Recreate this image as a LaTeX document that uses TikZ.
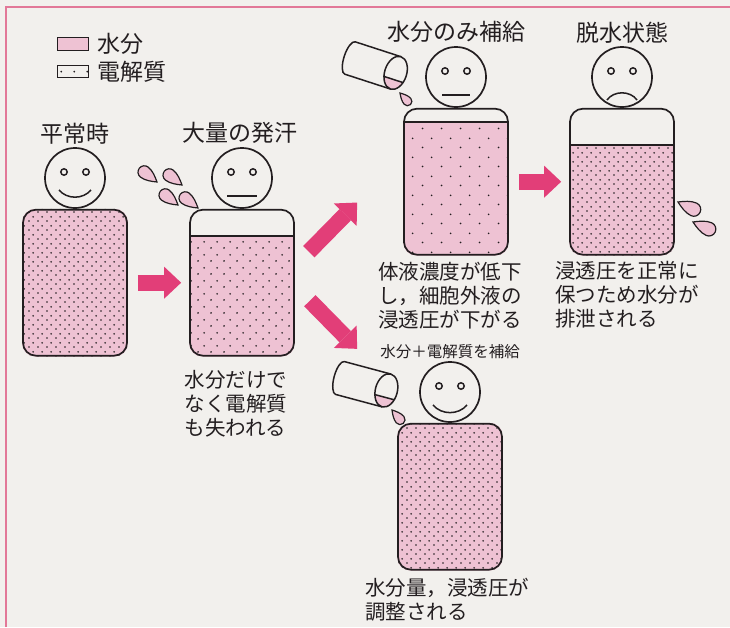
\documentclass[tikz,border=0pt]{standalone}
\usepackage{fontspec}
\setmainfont{Noto Sans CJK JP}
\usetikzlibrary{arrows.meta, positioning, backgrounds, patterns}

\definecolor{fluid}{RGB}{238,194,211}
\definecolor{arrowpink}{RGB}{226,62,120}
\definecolor{frame}{RGB}{226,120,152}
\definecolor{paper}{RGB}{242,240,237}
\definecolor{ink}{RGB}{35,30,32}

% dot screens for the electrolyte, from dense to thin
\pgfdeclarepatternformonly{densedots}{\pgfpointorigin}{\pgfqpoint{9pt}{9pt}}{\pgfqpoint{9pt}{9pt}}{%
  \pgfpathcircle{\pgfqpoint{2.25pt}{2.25pt}}{1pt}%
  \pgfpathcircle{\pgfqpoint{6.75pt}{6.75pt}}{1pt}%
  \pgfusepath{fill}}
\pgfdeclarepatternformonly{middots}{\pgfpointorigin}{\pgfqpoint{13pt}{13pt}}{\pgfqpoint{13pt}{13pt}}{%
  \pgfpathcircle{\pgfqpoint{3.25pt}{3.25pt}}{1pt}%
  \pgfpathcircle{\pgfqpoint{9.75pt}{9.75pt}}{1pt}%
  \pgfusepath{fill}}
\pgfdeclarepatternformonly{sparsedots}{\pgfpointorigin}{\pgfqpoint{19pt}{19pt}}{\pgfqpoint{19pt}{19pt}}{%
  \pgfpathcircle{\pgfqpoint{4.75pt}{4.75pt}}{1pt}%
  \pgfpathcircle{\pgfqpoint{14.25pt}{14.25pt}}{1pt}%
  \pgfusepath{fill}}

\tikzstyle{head} = [circle, draw=ink, line width=1.7pt, minimum size=60pt, inner sep=0pt]
\tikzstyle{body} = [rectangle, rounded corners=13pt, draw=ink, line width=1.7pt, minimum width=104pt, minimum height=146pt]
\tikzstyle{key} = [rectangle, draw=ink, line width=1.3pt, minimum width=31pt, minimum height=12.5pt, inner sep=0pt]
\tikzstyle{keytext} = [font=\fontsize{23}{26}\selectfont, inner sep=0pt, text=ink]
\tikzstyle{title} = [font=\fontsize{23}{26}\selectfont, inner sep=0pt, text=ink]
\tikzstyle{smalltitle} = [font=\fontsize{15.5}{18}\selectfont, inner sep=0pt, text=ink]
\tikzstyle{note} = [font=\fontsize{20.5}{24}\selectfont, align=left, inner sep=0pt, text=ink]
\tikzstyle{fluidline} = [draw=ink, line width=1.6pt]
\tikzstyle{face} = [draw=ink, line width=1.5pt]
\tikzstyle{fatarrow} = [line width=16pt, draw=arrowpink, -{Triangle[length=17pt,width=32pt,line width=0pt]}]

\tikzset{
  sweatdrop/.pic={
    \filldraw[fill=fluid, draw=ink, line width=1.2pt] (0,0) .. controls (4,2.5) and (9,5.5) .. (14,5.5)
      arc[start angle=90, end angle=-90, radius=5.5] .. controls (9,-5.5) and (4,-2.5) .. (0,0) -- cycle;
  },
  glass/.pic={
    \begin{scope}
      \clip (48,0) ellipse[x radius=11, y radius=17];
      \fill[fluid] (36,7) rectangle (60,18);
    \end{scope}
    \draw[face] (38,7) -- (58,7);
    \draw[face] (48,-17) -- (0,-17) arc[start angle=270, end angle=90, x radius=6, y radius=17] -- (48,17);
    \draw[face] (48,0) ellipse[x radius=11, y radius=17];
  }
}

\begin{document}
\begin{tikzpicture}[x=1pt, y=-1pt]
\useasboundingbox (0,0) rectangle (730,627);

% --- Legend ---
\node (keywater) [key, fill=fluid] at (73,44) {};
\node (keywatertext) [keytext, right=8pt of keywater] {水分};
\node (keysalt) [key, pattern=middots, pattern color=ink] at (73,71.5) {};
\node (keysalttext) [keytext, right=8pt of keysalt] {電解質};

% --- People ---
\node (head1) [head] at (75,178) {};
\node (body1) [body, below=0pt of head1] {};
\node (head2) [head] at (242,178) {};
\node (body2) [body, below=0pt of head2] {};
\node (head3) [head] at (456,77) {};
\node (body3) [body, below=0pt of head3] {};
\node (head4) [head] at (622,77) {};
\node (body4) [body, below=0pt of head4] {};
\node (head5) [head] at (450,392) {};
\node (body5) [body, below=0pt of head5] {};

\node (title1) [title, above=3pt of head1] {平常時};
\node (title2) [title, above=3pt of head2, xshift=-2pt] {大量の発汗};
\node (title3) [title, above=3pt of head3] {水分のみ補給};
\node (title4) [title, above=3pt of head4] {脱水状態};
\node (title5) [smalltitle, above=2pt of head5] {水分＋電解質を補給};

\node (note2) [note, below=14pt of body2, xshift=-6pt] {水分だけで\\なく電解質\\も失われる};
\node (note3) [note, below=6pt of body3, xshift=-6pt] {体液濃度が低下\\し，細胞外液の\\浸透圧が下がる};
\node (note4) [note, below=6pt of body4, xshift=5pt] {浸透圧を正常に\\保つため水分が\\排泄される};
\node (note5) [note, below=7pt of body5, xshift=-3pt] {水分量，浸透圧が\\調整される};

% body fluid behind the outlines
\begin{scope}[on background layer]
\fill[paper] (0,0) rectangle (730,627);
\draw[frame, line width=1.6pt] (6,627) -- (6,7) -- (730,7);
\foreach \b/\lev/\pat in {body1/0/densedots, body2/27/middots, body3/14/sparsedots, body4/37/densedots, body5/0/densedots} {
  \begin{scope}
    \clip[rounded corners=13pt] (\b.south west) rectangle (\b.north east);
    \fill[fluid, postaction={pattern=\pat, pattern color=ink}] (\b.south west) rectangle ([yshift=-\lev pt]\b.north east);
  \end{scope}
}
\end{scope}
\draw[fluidline] ([yshift=-27pt]body2.north west) -- ([yshift=-27pt]body2.north east);
\draw[fluidline] ([yshift=-14pt]body3.north west) -- ([yshift=-14pt]body3.north east);
\draw[fluidline] ([yshift=-37pt]body4.north west) -- ([yshift=-37pt]body4.north east);

% faces
\foreach \h in {head1,head2,head3,head4,head5}
  \draw[face] ([shift={(-11,-6)}]\h.center) circle[radius=3.2pt] ([shift={(11,-6)}]\h.center) circle[radius=3.2pt];
\draw[face] ([shift={(-16,12)}]head1.center) to[bend right=50] ([shift={(16,12)}]head1.center);
\draw[face] ([shift={(-15,18)}]head2.center) -- ([shift={(15,18)}]head2.center);
\draw[face] ([shift={(-14,18)}]head3.center) -- ([shift={(14,18)}]head3.center);
\draw[face] ([shift={(-15,23)}]head4.center) to[bend left=55] ([shift={(15,23)}]head4.center);
\draw[face] ([shift={(-17,13)}]head5.center) to[bend right=50] ([shift={(17,13)}]head5.center);

% sweat and urine drops
\foreach \p in {(157,182),(182,185),(178,205),(198,208)}
  \pic[rotate=142, scale=1.15] at \p {sweatdrop};
\pic[rotate=-25, scale=1.25] at (678,202) {sweatdrop};
\pic[rotate=-24, scale=1.25] at (693,222) {sweatdrop};

% drinking glasses
\pic[rotate=-18] at (350,58) {glass};
\pic[rotate=-48, scale=0.8] at (400,93) {sweatdrop};
\pic[rotate=-15] at (340,378) {glass};
\pic[rotate=-50, scale=0.9] at (392,410) {sweatdrop};

% --- Arrows ---
\draw[fatarrow] ([xshift=10pt]body1.east) -- ([xshift=-8pt]body2.west);
\draw[fatarrow] ([xshift=10pt]body3.east) -- ([xshift=-8pt]body4.west);
\draw[fatarrow] ([shift={(14,-31)}]body2.east) -- ([shift={(-46,-53)}]body3.south west);
\draw[fatarrow] ([shift={(15,18)}]body2.east) -- ([shift={(-40,-74)}]body5.north west);

\end{tikzpicture}
\end{document}
